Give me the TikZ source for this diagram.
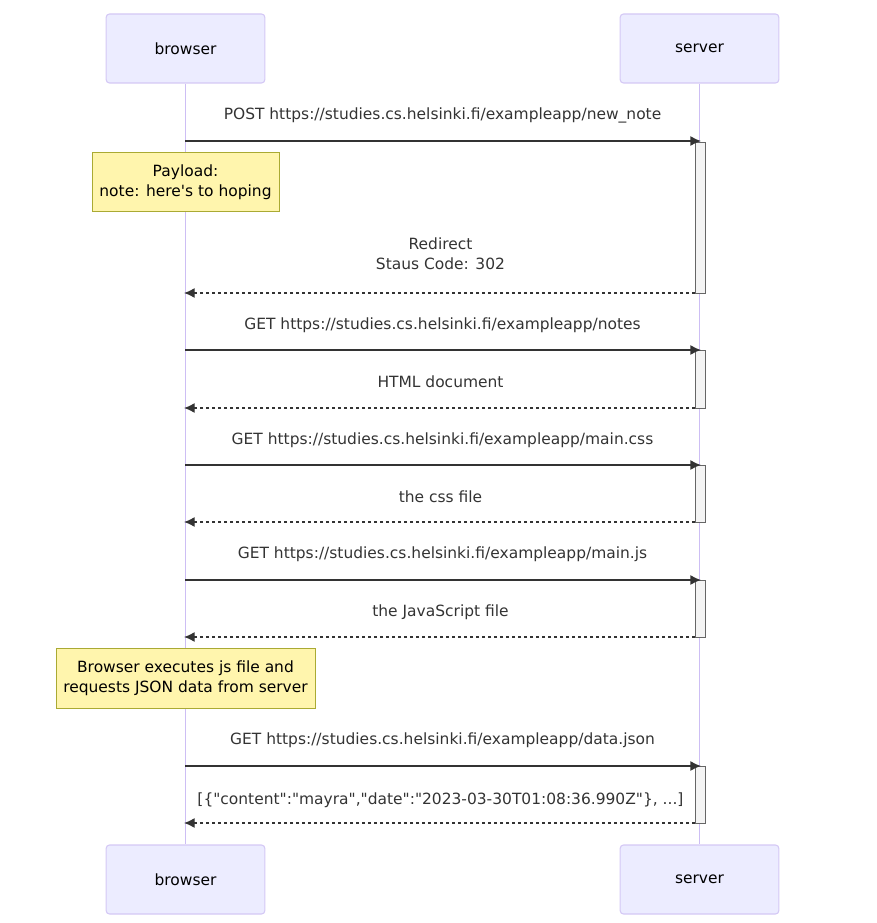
\documentclass[tikz,border=0pt]{standalone}
\usepackage{fontspec}
\setmainfont{DejaVu Sans}[Ligatures=TeXOff]
\usepackage{tikz}
\usetikzlibrary{arrows.meta}
\tikzset{>={Latex[length=8pt,width=7.5pt]}}
\definecolor{actorfill}{HTML}{ECECFF}
\definecolor{actorline}{HTML}{D4C8F5}
\definecolor{lifecolor}{HTML}{CDBEF4}
\definecolor{notefill}{HTML}{FFF5AD}
\definecolor{noteline}{HTML}{AAAA33}
\definecolor{msgtext}{HTML}{333333}
\definecolor{actfill}{HTML}{F4F4F4}
\definecolor{actline}{HTML}{666666}

\tikzset{
    actor/.style={draw=actorline, fill=actorfill, rounded corners=2.5pt, line width=0.8pt, minimum width=119pt, minimum height=51.75pt, font=\fontsize{11.6}{14}\selectfont, text=black},
    lifeline/.style={draw=lifecolor, line width=1.1pt},
    msglabel/.style={font=\fontsize{11.6}{15}\selectfont, text=msgtext, align=center},
    notebox/.style={draw=noteline, fill=notefill, line width=0.75pt, minimum height=44.5pt, font=\fontsize{11.6}{15}\selectfont, text=black, align=center},
    request/.style={draw=msgtext, line width=1pt, ->},
    reply/.style={draw=msgtext, line width=1pt, ->, dash pattern=on 2.25pt off 2.25pt},
    activation/.style={draw=actline, fill=actfill, line width=0.75pt}
}

\begin{document}
\begin{tikzpicture}[x=0.75pt, y=-0.75pt]
            \useasboundingbox (0, 0) rectangle (876, 923);

            % actors
            \node [actor] (browserTop) at (185.5, 48.5) {browser};
            \node [actor] (serverTop) at (699.5, 48.5) {server};
            \node [actor] (browserBot) at (185.5, 879.5) {browser};
            \node [actor] (serverBot) at (699.5, 879.5) {server};

            \draw [lifeline] (browserTop) -- (browserBot);
            \draw [lifeline] (serverTop) -- (serverBot);

            % activations
            \draw [activation] (695, 143) rectangle (705.5, 293);
            \draw [activation] (695, 350) rectangle (705.5, 408);
            \draw [activation] (695, 465) rectangle (705.5, 522);
            \draw [activation] (695, 580) rectangle (705.5, 637);
            \draw [activation] (695, 766) rectangle (705.5, 823);

            % message ends
            \coordinate (b1) at (185, 141);   \coordinate (s1) at (701, 141);
            \coordinate (s2) at (695, 293);   \coordinate (b2) at (184, 293);
            \coordinate (b3) at (185, 350);   \coordinate (s3) at (701, 350);
            \coordinate (s4) at (695, 408);   \coordinate (b4) at (184, 408);
            \coordinate (b5) at (185, 465);   \coordinate (s5) at (701, 465);
            \coordinate (s6) at (695, 522);   \coordinate (b6) at (184, 522);
            \coordinate (b7) at (185, 580);   \coordinate (s7) at (701, 580);
            \coordinate (s8) at (695, 637);   \coordinate (b8) at (184, 637);
            \coordinate (b9) at (185, 766);   \coordinate (s9) at (701, 766);
            \coordinate (s10) at (695, 823);  \coordinate (b10) at (184, 823);

            \draw [request] (b1) -- (s1);
            \draw [reply] (s2) -- (b2);
            \draw [request] (b3) -- (s3);
            \draw [reply] (s4) -- (b4);
            \draw [request] (b5) -- (s5);
            \draw [reply] (s6) -- (b6);
            \draw [request] (b7) -- (s7);
            \draw [reply] (s8) -- (b8);
            \draw [request] (b9) -- (s9);
            \draw [reply] (s10) -- (b10);

            % labels
            \node [msglabel] (postLabel) at (442.5, 115) {POST https://studies.cs.helsinki.fi/exampleapp/new\_note};
            \node [msglabel] (redirectLabel) at (440.5, 254) {Redirect\\Staus Code: 302};
            \node [msglabel] (notesLabel) at (442.5, 325) {GET https://studies.cs.helsinki.fi/exampleapp/notes};
            \node [msglabel] (htmlLabel) at (440.5, 382) {HTML document};
            \node [msglabel] (cssLabel) at (442.5, 440) {GET https://studies.cs.helsinki.fi/exampleapp/main.css};
            \node [msglabel] (cssFileLabel) at (440.5, 497) {the css file};
            \node [msglabel] (jsLabel) at (442.5, 554) {GET https://studies.cs.helsinki.fi/exampleapp/main.js};
            \node [msglabel] (jsFileLabel) at (440.5, 612) {the JavaScript file};
            \node [msglabel] (jsonLabel) at (442.5, 740) {GET https://studies.cs.helsinki.fi/exampleapp/data.json};
            \node [msglabel] (dataLabel) at (440.5, 800) {[\{"content":"mayra","date":"2023-03-30T01:08:36.990Z"\}, ...]};

            % notes
            \node [notebox, minimum width=140.25pt] (payloadNote) at (185.5, 182) {Payload:\\note: here's to hoping};
            \node [notebox, minimum width=194.25pt] (execNote) at (185.5, 678.5) {Browser executes js file and\\requests JSON data from server};
        \end{tikzpicture}
\end{document}
